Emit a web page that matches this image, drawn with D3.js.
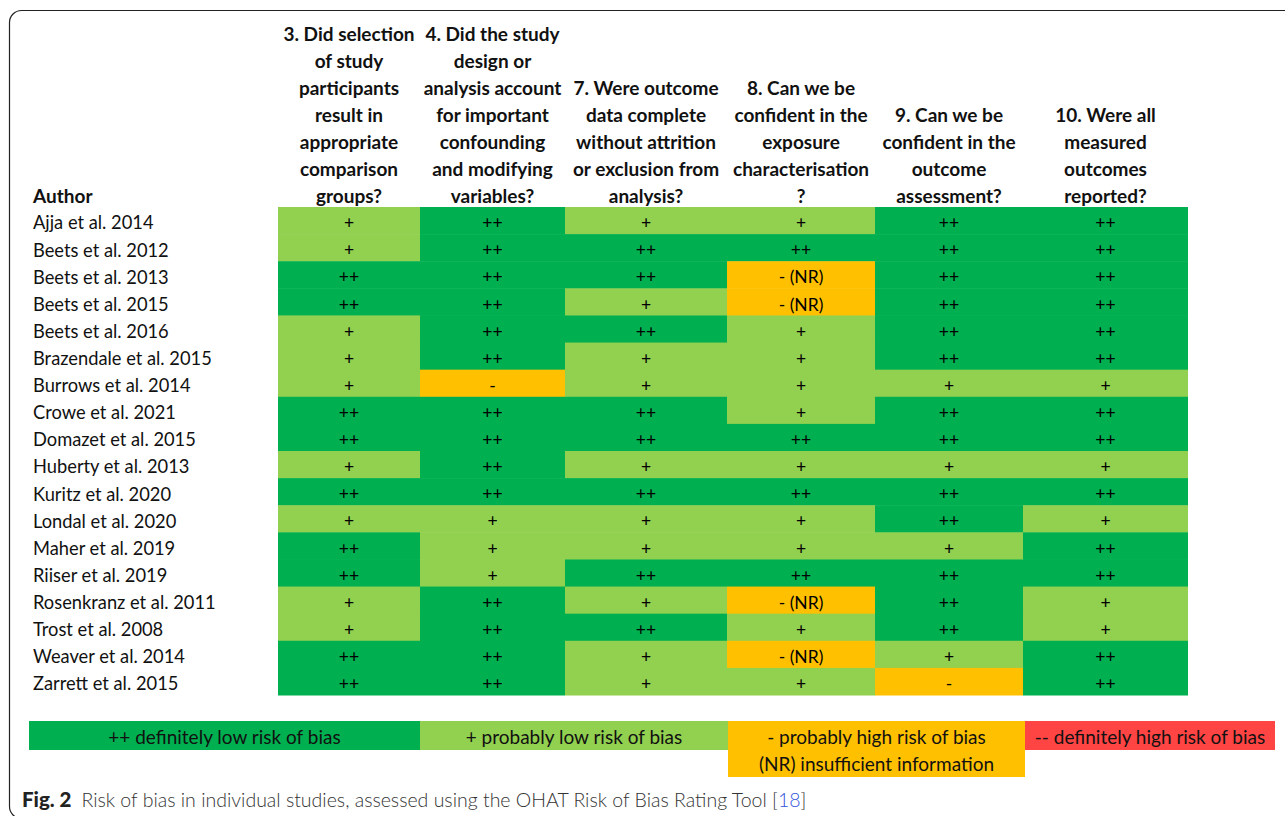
<!DOCTYPE html>
<html>
<head>
<meta charset="utf-8">
<script src="https://cdn.jsdelivr.net/npm/d3@7"></script>
<style>
  body { margin: 0; background: #fff; }
  svg { display: block; font-family: Lato, "Open Sans", sans-serif; }
</style>
</head>
<body>
<div class="chart"></div>
<script>
//studies, one per row
const authors = [
    'Ajja et al. 2014', 'Beets et al. 2012', 'Beets et al. 2013', 'Beets et al. 2015',
    'Beets et al. 2016', 'Brazendale et al. 2015', 'Burrows et al. 2014', 'Crowe et al. 2021',
    'Domazet et al. 2015', 'Huberty et al. 2013', 'Kuritz et al. 2020', 'Londal et al. 2020',
    'Maher et al. 2019', 'Riiser et al. 2019', 'Rosenkranz et al. 2011', 'Trost et al. 2008',
    'Weaver et al. 2014', 'Zarrett et al. 2015'
];

//question headers, already broken into lines like the original
const questions = [
    ['3. Did selection', 'of study', 'participants', 'result in', 'appropriate', 'comparison', 'groups?'],
    ['4. Did the study', 'design or', 'analysis account', 'for important', 'confounding', 'and modifying', 'variables?'],
    ['7. Were outcome', 'data complete', 'without attrition', 'or exclusion from', 'analysis?'],
    ['8. Can we be', 'confident in the', 'exposure', 'characterisation', '?'],
    ['9. Can we be', 'confident in the', 'outcome', 'assessment?'],
    ['10. Were all', 'measured', 'outcomes', 'reported?']
];

//ratings, row by row (same order as authors), column by column (same order as questions)
const ratings = [
    ['+',  '++', '+',  '+',     '++', '++'],
    ['+',  '++', '++', '++',    '++', '++'],
    ['++', '++', '++', '- (NR)', '++', '++'],
    ['++', '++', '+',  '- (NR)', '++', '++'],
    ['+',  '++', '++', '+',     '++', '++'],
    ['+',  '++', '+',  '+',     '++', '++'],
    ['+',  '-',  '+',  '+',     '+',  '+'],
    ['++', '++', '++', '+',     '++', '++'],
    ['++', '++', '++', '++',    '++', '++'],
    ['+',  '++', '+',  '+',     '+',  '+'],
    ['++', '++', '++', '++',    '++', '++'],
    ['+',  '+',  '+',  '+',     '++', '+'],
    ['++', '+',  '+',  '+',     '+',  '++'],
    ['++', '+',  '++', '++',    '++', '++'],
    ['+',  '++', '+',  '- (NR)', '++', '+'],
    ['+',  '++', '++', '+',     '++', '+'],
    ['++', '++', '+',  '- (NR)', '+',  '++'],
    ['++', '++', '+',  '+',     '-',  '++']
];

//legend
const legendKeys = ['++', '+', '-', '--'];
const legendLabels = [
    ['++ definitely low risk of bias'],
    ['+ probably low risk of bias'],
    ['- probably high risk of bias', '(NR) insufficient information'],
    ['-- definitely high risk of bias']
];

//rating -> fill colour
const color = d3.scaleOrdinal()
    .domain(['++', '+', '-', '- (NR)', '--'])
    .range(['#00b050', '#92d050', '#ffc000', '#ffc000', '#ff4444']);

const width = 1285, height = 816;

//column edges are uneven in the original table
const colEdges = [278, 420, 565, 727, 875, 1023, 1188];

const y = d3.scaleBand()
    .domain(authors)
    .range([207, 695])
    .padding(0);

const svg = d3.select('.chart')
    .append('svg')
    .attr('width', width)
    .attr('height', height);

//rounded frame round the figure
svg.append('rect')
    .attr('x', 9.5)
    .attr('y', 10.5)
    .attr('width', 1400)
    .attr('height', 808)
    .attr('rx', 12)
    .attr('fill', 'none')
    .attr('stroke', '#222')
    .attr('stroke-width', 1.2);

//headers, bottom aligned
const lineH = 27;
const headerBottom = 196;
svg.append('g')
    .selectAll('text')
    .data(questions)
    .join('text')
    .attr('x', (d, i) => (colEdges[i] + colEdges[i + 1]) / 2)
    .attr('text-anchor', 'middle')
    .style('font-size', '19px')
    .style('font-weight', 'bold')
    .style('fill', '#111')
    .each(function(lines) {
        d3.select(this).selectAll('tspan')
            .data(lines)
            .join('tspan')
            .attr('x', d3.select(this).attr('x'))
            .attr('y', (l, j) => headerBottom - (lines.length - 1 - j) * lineH)
            .attr('dy', '0.35em')
            .text(l => l);
    });

svg.append('text')
    .attr('x', 33)
    .attr('y', headerBottom)
    .attr('dy', '0.35em')
    .style('font-size', '19px')
    .style('font-weight', 'bold')
    .style('fill', '#111')
    .text('Author');

//author names
svg.append('g')
    .selectAll('text')
    .data(authors)
    .join('text')
    .attr('x', 33)
    .attr('y', d => y(d) + y.bandwidth() / 2 + 2.5)
    .attr('dy', '0.35em')
    .style('font-size', '18.3px')
    .style('fill', '#111')
    .text(d => d);

//cells
const cells = ratings.flatMap((row, r) => row.map((v, c) => ({author: authors[r], col: c, value: v})));

const cellG = svg.append('g')
    .selectAll('g')
    .data(cells)
    .join('g');

cellG.append('rect')
    .attr('x', d => colEdges[d.col])
    .attr('y', d => y(d.author))
    .attr('width', d => colEdges[d.col + 1] - colEdges[d.col])
    .attr('height', y.bandwidth() + 0.5)
    .attr('fill', d => color(d.value));

cellG.append('text')
    .attr('x', d => (colEdges[d.col] + colEdges[d.col + 1]) / 2)
    .attr('y', d => y(d.author) + y.bandwidth() / 2 + 2.5)
    .attr('dy', '0.35em')
    .attr('text-anchor', 'middle')
    .style('font-size', '17.5px')
    .style('fill', '#000')
    .text(d => d.value);

//legend boxes
const legendEdges = [29, 420, 728, 1025, 1275];
const legendTop = 721, legendRow = 29;

const leg = svg.append('g')
    .selectAll('g')
    .data(legendKeys)
    .join('g');

leg.append('rect')
    .attr('x', (d, i) => legendEdges[i])
    .attr('y', legendTop)
    .attr('width', (d, i) => legendEdges[i + 1] - legendEdges[i])
    .attr('height', (d, i) => legendLabels[i].length === 1 ? legendRow : 56)
    .attr('fill', d => color(d));

leg.each(function(d, i) {
    d3.select(this).selectAll('text')
        .data(legendLabels[i])
        .join('text')
        .attr('x', (legendEdges[i] + legendEdges[i + 1]) / 2)
        .attr('y', (l, j) => legendTop + 16 + j * 27)
        .attr('dy', '0.35em')
        .attr('text-anchor', 'middle')
        .style('font-size', '19px')
        .style('fill', '#111')
        .text(l => l);
});

//caption
const caption = svg.append('text')
    .attr('x', 22)
    .attr('y', 800)
    .attr('dy', '0.35em')
    .style('font-size', '19.5px')
    .style('fill', '#333');

caption.append('tspan').style('font-weight', 900).style('font-size', '20.5px').style('fill', '#222').text('Fig. 2');
caption.append('tspan').attr('dx', 10).style('font-weight', 300)
    .text('Risk of bias in individual studies, assessed using the OHAT Risk of Bias Rating Tool [');
caption.append('tspan').style('font-weight', 300).style('fill', '#3355dd').text('18');
caption.append('tspan').style('font-weight', 300).text(']');
</script>
</body>
</html>
